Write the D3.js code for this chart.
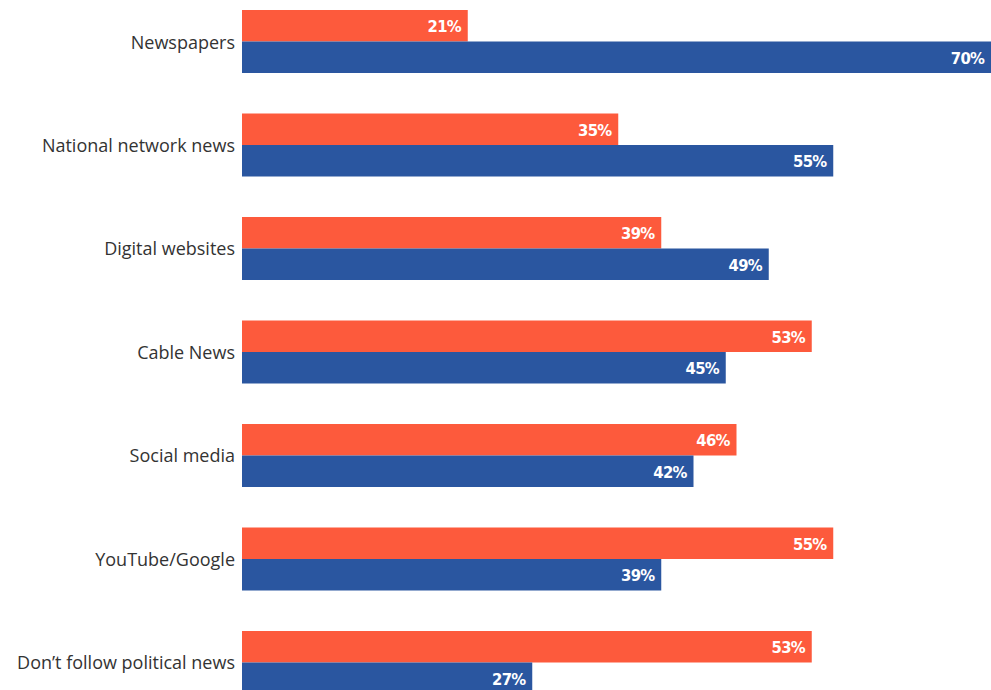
<!DOCTYPE html>
<html><head><meta charset="utf-8">
<script src="https://cdn.jsdelivr.net/npm/d3@7"></script>
<style>html,body{margin:0;padding:0;background:#fff;overflow:hidden}</style>
</head><body>
<svg id="c" width="991" height="690"></svg>
<script>
const categories = ["Newspapers","National network news","Digital websites","Cable News","Social media","YouTube/Google","Don\u2019t follow political news"];
const seriesNames = ["orange","blue"];
const orangeValues = [21,35,39,53,46,55,53];
const blueValues = [70,55,49,45,42,39,27];
const colors = {orange:"#fd5a3c", blue:"#2a56a0"};

const svg = d3.select("#c");
const x = d3.scaleLinear().domain([0,70]).range([242,994.5]);
const y = d3.scaleBand().domain(categories).range([10,694]).paddingInner(0.3913).paddingOuter(0).align(0);
const ys = d3.scaleBand().domain(seriesNames).range([0,y.bandwidth()]);

const rows = categories.map((c,i)=>({cat:c, vals:[{s:"orange",v:orangeValues[i]},{s:"blue",v:blueValues[i]}]}));

const g = svg.selectAll("g.row").data(rows).join("g").attr("class","row")
  .attr("transform",d=>`translate(0,${y(d.cat)})`);

g.selectAll("rect").data(d=>d.vals).join("rect")
  .attr("x",x(0)).attr("y",d=>ys(d.s)).attr("height",ys.bandwidth())
  .attr("width",d=>x(d.v)-x(0)).attr("fill",d=>colors[d.s]);

g.selectAll("text.val").data(d=>d.vals).join("text").attr("class","val")
  .attr("x",d=>Math.min(x(d.v),991)-7).attr("y",d=>ys(d.s)+ys.bandwidth()/2+1)
  .attr("text-anchor","end").attr("dominant-baseline","central")
  .attr("fill","#fff").attr("font-family","'DejaVu Sans Condensed','DejaVu Sans',sans-serif")
  .attr("font-weight","bold").attr("font-size",16.5).attr("letter-spacing",-0.8)
  .text(d=>d.v+"%");

g.append("text").attr("class","cat")
  .attr("x",x(0)-7).attr("y",y.bandwidth()/2)
  .attr("text-anchor","end").attr("dominant-baseline","central")
  .attr("fill","#333").attr("font-family","'Open Sans',sans-serif").attr("font-size",18)
  .text(d=>d.cat);
</script>
</body></html>
